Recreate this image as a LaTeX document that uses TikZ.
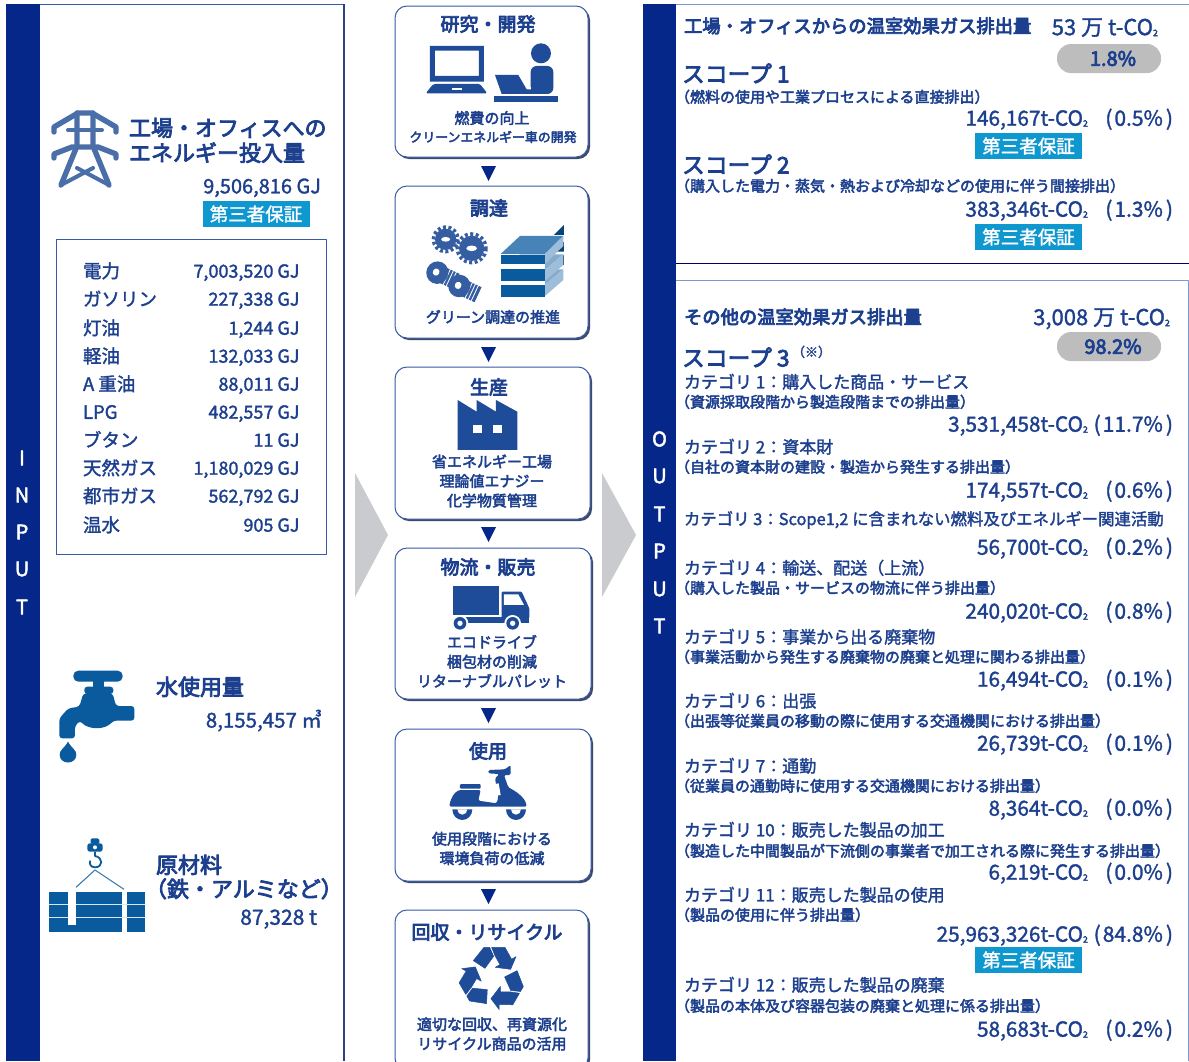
\documentclass[tikz,border=0pt]{standalone}
\usepackage{fontspec}
\setmainfont{Noto Sans CJK JP}
\newcommand\mainw{\special{pdf:code 2 Tr 0.3 w}}
\newcommand\subfont{\special{pdf:code 2 Tr 0.45 w}}
\newcommand\hvfont{\special{pdf:code 2 Tr 0.8 w}}
\renewcommand\bfseries{\hvfont}
\usetikzlibrary{shadows}
\definecolor{navy}{HTML}{06278A}
\definecolor{ink}{HTML}{1C3F8E}
\definecolor{iconblue}{HTML}{1F4C98}
\definecolor{tapblue}{HTML}{0A5A9E}
\definecolor{towerblue}{HTML}{4A6FA8}
\definecolor{framec}{HTML}{3A5AA6}
\definecolor{framel}{HTML}{7F97CF}
\definecolor{badgec}{HTML}{0F97CF}
\definecolor{pillc}{HTML}{BDBDBD}
\definecolor{chev}{HTML}{C9CBCE}
\definecolor{shadowc}{HTML}{3C4A6E}
\tikzset{
  tx/.style={text=ink,inner sep=0pt,outer sep=0pt},
  flowbox/.style={draw=framec,line width=1pt,fill=white,rounded corners=12pt,inner sep=0pt,
    copy shadow={shadow xshift=2pt,shadow yshift=-2pt,fill=shadowc,draw=none}},
  badge/.style={fill=badgec,text=white,inner sep=0pt,minimum width=107pt,minimum height=26pt,font=\fontsize{18.5}{20}\selectfont},
  pill/.style={fill=pillc,text=ink,rounded corners=14pt,inner sep=0pt,minimum width=104pt,minimum height=29pt,font=\fontsize{20}{22}\selectfont},
  panel/.style={draw=framec,line width=1pt},
  bar/.style={fill=navy},
  side/.style={text=white,inner sep=0pt,font=\fontsize{20}{20}\selectfont},
  flowtext/.style={text=ink,inner sep=0pt,align=center,font=\fontsize{15}{19.5}\selectfont},
  flowtextb/.style={text=ink,inner sep=0pt,font=\fontsize{12.9}{15}\selectfont},
  flowhead/.style={text=ink,inner sep=0pt,font=\fontsize{19}{20}\selectfont},
  iconz/.style={x=0.3333pt,y=-0.3333pt},
}
\newcommand\COii{CO{\fontsize{9}{9}\selectfont\raisebox{-1pt}{2}}}
\newcommand\txtL[5]{\pgfmathsetmacro\by{#3+0.37*#4}\node[tx,anchor=base west,font=\fontsize{#4}{#4}\selectfont] (#1) at (#2,\by) {\mainw #5};}
\newcommand\txtR[5]{\pgfmathsetmacro\by{#3+0.37*#4}\node[tx,anchor=base east,font=\fontsize{#4}{#4}\selectfont] (#1) at (#2,\by) {\mainw #5};}
\newcommand\valrow[4]{\txtR{#1n}{1088}{#2}{20.8}{#3t-\COii}\txtR{#1p}{1173}{#2}{21}{(\hspace{2pt}#4\hspace{3pt})}}
\newcommand\recyarrow{%
  \filldraw[iconblue,line width=.5pt] (-57,-53) -- (-25,-93) -- (-8,-93) -- (4,-66) -- (-22,-30) -- cycle;
  \filldraw[iconblue,line width=.5pt] (-2,-93) -- (38,-93) -- (58,-57) -- (71,-65) -- (55,-27) -- (9,-33) -- (23,-41) -- (8,-68) -- cycle;}
\begin{document}
\begin{tikzpicture}[x=1pt,y=-1pt,line join=round]
\useasboundingbox (0,0) rectangle (1189,1061);
\fill[white] (0,0) rectangle (1189,1061);
% ---------- panels
\fill[bar] (6,4) rectangle (40,1061);
\draw[panel] (40,4.5) -- (344,4.5);
\draw[line width=1.4pt,draw=black!25!framec] (344,4) -- (344,1061);
\fill[bar] (643,4) rectangle (676,1061);
\draw[panel,draw=framel] (676,4.5) -- (1189,4.5);
\draw[line width=1.6pt,draw=black!60!blue] (676,263.5) -- (1189,263.5);
\draw[panel,draw=framel] (676,280.5) -- (1188,280.5) -- (1188,1061);
\foreach \l/\y/\n in {I/458/i1,N/495/i2,P/532/i3,U/569/i4,T/607/i5}
  \node[side] (\n) at (22,\y) {\subfont \l};
\foreach \l/\y/\n in {O/439/o1,U/476/o2,T/514/o3,P/551/o4,U/589/o5,T/626/o6}
  \node[side] (\n) at (659.5,\y) {\subfont \l};
% ---------- chevrons
\fill[chev] (355,473) -- (388,535) -- (355,597) -- cycle;
\fill[chev] (602,473) -- (636,535) -- (602,597) -- cycle;
% ---------- INPUT: tower
\begin{scope}[draw=towerblue,line width=5.4pt,line cap=round]
  \draw (54,132) -- (54,127) -- (78,113) -- (92,113) -- (116,127) -- (116,132);
  \draw (54,158) -- (54,154) -- (72,147) -- (98,147) -- (116,154) -- (116,158);
  \draw[line width=4pt] (68,130) -- (102,130);
  \draw (61,185) -- (77,146) -- (77,113);
  \draw (109,185) -- (93,146) -- (93,113);
  \draw[line width=4pt] (61,185) -- (93,168);
  \draw[line width=4pt] (109,185) -- (77,168);
\end{scope}
\txtL{h1a}{129}{128}{22}{\bfseries 工場・オフィスへの}
\txtL{h1b}{129}{153}{22}{\bfseries エネルギー投入量}
\txtR{h1v}{321}{186}{20}{9,506,816 GJ}
\node[badge] (b0) at (256,214) {\mainw 第三者保証};
\draw[line width=1pt,draw=framec] (56.5,239.5) rectangle (326,554);
\foreach \n/\y/\a/\v in {r1/271/電力/7{,}003{,}520,r2/299/ガソリン/227{,}338,r3/328/灯油/1{,}244,r4/356/軽油/132{,}033,r5/384/A 重油/88{,}011,r6/412/LPG/482{,}557,r7/440/ブタン/11,r8/468/天然ガス/1{,}180{,}029,r9/496/都市ガス/562{,}792,r10/525/温水/905}{
  \txtL{\n a}{83}{\y}{18.5}{\a}
  \txtR{\n b}{299.5}{\y}{18}{\v\ GJ}
}
% ---------- INPUT: faucet
\begin{scope}[shift={(0,650)},iconz]
  \fill[tapblue,rounded corners=5pt] (220,62) rectangle (368,95);
  \fill[tapblue,rounded corners=3pt] (253,110) rectangle (340,132);
  \fill[tapblue] (280,90) rectangle (312,115);
  \fill[tapblue,rounded corners=3pt] (178,265) -- (225,265) -- (225,228) -- (240,212) .. controls (265,240) and (315,240) .. (340,212) -- (403,212) -- (403,168) -- (348,168) -- (338,130) -- (250,130) -- (238,170) -- (205,175) -- (178,205) -- cycle;
  \fill[tapblue] (204,275) .. controls (215,295) and (230,300) .. (229,315) .. controls (228,345) and (180,345) .. (179,315) .. controls (178,300) and (193,295) .. (204,275) -- cycle;
\end{scope}
\txtL{h2}{156}{687}{22}{\bfseries 水使用量}
\txtR{h2v}{322}{720}{20.5}{8,155,457 ㎥}
% ---------- INPUT: crane load
\begin{scope}[shift={(0,650)},iconz]
  \fill[tapblue] (147,725) rectangle (435,845);
  \fill[white] (365,725) rectangle (382,845);
  \fill[white!85!tapblue] (147,761) rectangle (435,765);
  \fill[white!85!tapblue] (147,801) rectangle (435,805);
  \fill[white] (205,725) rectangle (228,825);
  \fill[tapblue,rounded corners=1.5pt] (272,565) rectangle (298,582);
  \fill[tapblue,rounded corners=2.5pt] (262,580) rectangle (308,605);
  \fill[white] (285,592) circle[radius=6];
  \draw[tapblue,line width=1.8pt] (285,605) -- (285,618) .. controls (310,622) and (310,652) .. (285,652) .. controls (272,652) and (268,642) .. (270,632);
  \draw[tapblue!80!white,line width=1.1pt] (228,712) -- (285,660) -- (372,718);
\end{scope}
\txtL{h3a}{156}{865}{22}{\bfseries 原材料}
\txtL{h3b}{145}{889}{22}{\bfseries （鉄・アルミなど）}
\txtR{h3v}{317}{917}{21}{87,328 t}
% ---------- flow boxes
\node[flowbox,minimum width=193pt,minimum height=151pt] (f1) at (491.5,81.5) {};
\node[flowbox,minimum width=193pt,minimum height=152pt] (f2) at (491.5,262) {};
\node[flowbox,minimum width=195pt,minimum height=152pt] (f3) at (492.5,443) {};
\node[flowbox,minimum width=196pt,minimum height=151pt] (f4) at (493,623.5) {};
\node[flowbox,minimum width=196pt,minimum height=152pt] (f5) at (493,805) {};
\node[flowbox,minimum width=193pt,minimum height=160pt] (f6) at (491.5,990) {};
% connector triangles between the boxes
\foreach \a/\b/\t in {f1/f2/166,f2/f3/347,f3/f4/527,f4/f5/708,f5/f6/889}
  \fill[navy] (481,\t) -- (496,\t) -- (488.5,\t+15) -- cycle;
\node[flowhead] (t1) at (488,24) {\hvfont 研究・開発};
\node[flowtext] (d1a) at (492,118) {\subfont 燃費の向上};
\node[flowtextb] (d1b) at (493,137) {\subfont クリーンエネルギー車の開発};
\node[flowhead] (t2) at (489,208) {\hvfont 調達};
\node[flowtext] (d2) at (493,317) {\subfont グリーン調達の推進};
\node[flowhead] (t3) at (489,387) {\hvfont 生産};
\node[flowtext] (d3) at (492,481) {\subfont 省エネルギー工場\\\subfont 理論値エナジー\\\subfont 化学物質管理};
\node[flowhead] (t4) at (488,567) {\hvfont 物流・販売};
\node[flowtext] (d4) at (492,661.5) {\subfont エコドライブ\\\subfont 梱包材の削減\\\subfont リターナブルパレット};
\node[flowhead] (t5) at (488,751) {\hvfont 使用};
\node[flowtext] (d5) at (492,848.5) {\subfont 使用段階における\\\subfont 環境負荷の低減};
\node[flowhead] (t6) at (487,932) {\hvfont 回収・リサイクル};
\node[flowtext] (d6) at (492,1034) {\subfont 適切な回収、再資源化\\\subfont リサイクル商品の活用};
% ---------- icons in boxes
\begin{scope}[shift={(380,0)},iconz]
  % laptop
  \fill[iconblue,even odd rule] (150,138) rectangle (312,245) (165,152) rectangle (297,228);
  \fill[iconblue,rounded corners=1.5pt] (160,252) -- (300,252) -- (322,280) -- (137,280) -- cycle;
  \fill[white] (215,265) rectangle (245,271);
  % person
  \fill[iconblue] (483,160) circle[radius=30];
  \fill[iconblue,rounded corners=6pt] (452,282) -- (452,198) -- (520,198) -- (520,282) -- cycle;
  \fill[white] (432,262) rectangle (452,272);
  \fill[iconblue] (345,225) -- (415,225) -- (440,268) -- (470,268) -- (470,282) -- (365,282) -- cycle;
  \fill[iconblue] (342,288) rectangle (533,307);
  % gears
  \foreach \cx/\cy/\r in {197/718/32,275/745/38}{
    \fill[iconblue!90!white] (\cx,\cy) circle[radius=\r];
    \draw[iconblue!90!white,line width=3.5pt,dash pattern=on 3pt off 2.5pt] (\cx,\cy) circle[radius=\r+5];
    \fill[white] (\cx,\cy) ellipse[x radius=\r*0.42,y radius=\r*0.22];
  }
  % bolts
  \foreach \cx/\cy in {172/818,238/858}{
    \begin{scope}[shift={(\cx,\cy)},rotate=-25]
      \fill[iconblue!90!white] (10,-25) rectangle (62,25);
      \foreach \k in {30,40,50} \fill[white] (\k,-28) rectangle (\k+2.5,28);
      \fill[iconblue!90!white] (0,0) ellipse[x radius=33,y radius=34];
      \fill[white] (-4,0) ellipse[x radius=10,y radius=11];
    \end{scope}
  }
  % stacked sheets
  \fill[black!25!tapblue] (522,705) -- (552,675) -- (552,705) -- cycle;
  \fill[black!25!tapblue] (522,755) -- (552,725) -- (552,755) -- cycle;
  \fill[black!25!tapblue] (522,795) -- (552,765) -- (552,795) -- cycle;
  \foreach \t in {855,810}{
    \fill[tapblue!50!white] (362,\t) -- (420,\t-47) -- (550,\t-47) -- (495,\t) -- cycle;
    \fill[tapblue!40!white] (495,\t) -- (550,\t-47) -- (550,\t-15) -- (495,\t+33) -- cycle;
    \fill[tapblue] (362,\t) rectangle (495,\t+36);
  }
  \fill[tapblue!75!white] (362,762) -- (420,708) -- (550,708) -- (495,762) -- cycle;
  \fill[tapblue!40!white] (495,762) -- (550,708) -- (550,738) -- (495,792) -- cycle;
  \fill[tapblue] (362,765) rectangle (495,792);
  \fill[white] (362,792) rectangle (495,808);
  \fill[tapblue] (362,808) rectangle (495,842);
  \fill[white] (362,842) rectangle (495,855);
  \fill[tapblue] (362,855) rectangle (495,890);
\end{scope}
\begin{scope}[shift={(380,360)},iconz]
  % factory
  \fill[iconblue] (233,120) -- (290,155) -- (290,120) -- (348,155) -- (348,120) -- (412,155) -- (412,270) -- (233,270) -- cycle;
  \fill[white] (280,195) rectangle (305,218);
  \fill[white] (340,195) rectangle (365,218);
  % truck
  \fill[iconblue] (220,677) rectangle (357,765);
  \fill[iconblue,rounded corners=1pt] (365,695) -- (425,695) -- (448,745) -- (448,775) -- (365,775) -- cycle;
  \fill[white] (372,703) -- (415,703) -- (432,735) -- (372,735) -- cycle;
  \fill[iconblue] (225,770) rectangle (448,788);
  \foreach \c in {240,398}{
    \fill[white] (\c,790) circle[radius=25];
    \fill[iconblue] (\c,790) circle[radius=19];
    \fill[white] (\c,790) circle[radius=8];
  }
\end{scope}
\begin{scope}[shift={(380,710)},iconz]
  % scooter
  \fill[iconblue,rounded corners=1pt] (240,222) rectangle (302,236);
  \fill[iconblue,rounded corners=1.5pt] (208,290) .. controls (212,262) and (225,245) .. (240,240) -- (302,240) -- (295,272) -- (350,280) -- (355,262) -- (345,205) -- (358,192) -- (325,190) -- (325,180) -- (375,178) -- (392,165) -- (392,195) -- (372,195) -- (385,232) .. controls (420,250) and (438,270) .. (440,290) -- cycle;
  \fill[white] (345,222) -- (356,220) -- (362,255) -- (352,257) -- cycle;
  \fill[iconblue] (217,298) arc[start angle=180,end angle=360,x radius=30,y radius=-32] -- cycle;
  \fill[white] (232,298) arc[start angle=180,end angle=360,x radius=15,y radius=-16] -- cycle;
  \fill[iconblue] (378,298) arc[start angle=180,end angle=360,x radius=30,y radius=-32] -- cycle;
  \fill[white] (393,298) arc[start angle=180,end angle=360,x radius=15,y radius=-16] -- cycle;
\end{scope}
% recycle
\begin{scope}[shift={(492.3,978.3)},iconz]\recyarrow\end{scope}
\begin{scope}[shift={(492.3,978.3)},rotate=120,iconz]\recyarrow\end{scope}
\begin{scope}[shift={(492.3,978.3)},rotate=240,iconz]\recyarrow\end{scope}
% ---------- OUTPUT top
\txtL{a1}{684}{26}{18.3}{\bfseries 工場・オフィスからの温室効果ガス排出量}
\txtR{a2}{1158}{27}{22}{53 万 t-\COii}
\node[pill] (p1) at (1109,58.5) {\hvfont\hspace{8pt}1.8\%};
\txtL{s1}{682}{74}{22.8}{\bfseries スコープ 1}
\txtL{s1d}{675}{97}{15}{\subfont （燃料の使用や工業プロセスによる直接排出）}
\valrow{v1}{118}{146,167}{0.5\%}
\node[badge] (b1) at (1028.5,146) {\mainw 第三者保証};
\txtL{s2}{682}{165}{22.8}{\bfseries スコープ 2}
\txtL{s2d}{675}{186}{15}{\subfont （購入した電力・蒸気・熱および冷却などの使用に伴う間接排出）}
\valrow{v2}{209}{383,346}{1.3\%}
\node[badge] (b2) at (1028.5,237) {\mainw 第三者保証};
% ---------- OUTPUT lower
\txtL{c1}{684}{317}{18.3}{\bfseries その他の温室効果ガス排出量}
\txtR{c2}{1170}{317}{22}{3,008 万 t-\COii}
\node[pill] (p2) at (1109,346.5) {\hvfont\hspace{8pt}98.2\%};
\txtL{s3}{682}{358}{22.8}{\bfseries スコープ 3}
\txtL{s3n}{792}{352}{13}{（※）}
\txtL{k1}{684}{382}{17}{カテゴリ 1：購入した商品・サービス}
\txtL{k1d}{675}{402}{15}{\subfont （資源採取段階から製造段階までの排出量）}
\valrow{v3}{424}{3,531,458}{11.7\%}
\txtL{k2}{684}{447}{17}{カテゴリ 2：資本財}
\txtL{k2d}{675}{467}{15}{\subfont （自社の資本財の建設・製造から発生する排出量）}
\valrow{v4}{490}{174,557}{0.6\%}
\txtL{k3}{684}{519}{16.4}{カテゴリ 3：Scope1,2 に含まれない燃料及びエネルギー関連活動}
\valrow{v5}{547}{56,700}{0.2\%}
\txtL{k4}{684}{568}{17}{カテゴリ 4：輸送、配送（上流）}
\txtL{k4d}{675}{588}{15}{\subfont （購入した製品・サービスの物流に伴う排出量）}
\valrow{v6}{611}{240,020}{0.8\%}
\txtL{k5}{684}{637}{17}{カテゴリ 5：事業から出る廃棄物}
\txtL{k5d}{675}{657}{15}{\subfont （事業活動から発生する廃棄物の廃棄と処理に関わる排出量）}
\valrow{v7}{679}{16,494}{0.1\%}
\txtL{k6}{684}{701}{17}{カテゴリ 6：出張}
\txtL{k6d}{675}{721}{15}{\subfont （出張等従業員の移動の際に使用する交通機関における排出量）}
\valrow{v8}{743}{26,739}{0.1\%}
\txtL{k7}{684}{766}{17}{カテゴリ 7：通勤}
\txtL{k7d}{675}{786}{15}{\subfont （従業員の通勤時に使用する交通機関における排出量）}
\valrow{v9}{808}{8,364}{0.0\%}
\txtL{k10}{684}{830}{17}{カテゴリ 10：販売した製品の加工}
\txtL{k10d}{675}{851}{15}{\subfont （製造した中間製品が下流側の事業者で加工される際に発生する排出量）}
\valrow{v10}{872}{6,219}{0.0\%}
\txtL{k11}{684}{895}{17}{カテゴリ 11：販売した製品の使用}
\txtL{k11d}{675}{915}{15}{\subfont （製品の使用に伴う排出量）}
\valrow{v11}{934}{25,963,326}{84.8\%}
\node[badge] (b3) at (1028.5,960) {\mainw 第三者保証};
\txtL{k12}{684}{985}{17}{カテゴリ 12：販売した製品の廃棄}
\txtL{k12d}{675}{1006}{15}{\subfont （製品の本体及び容器包装の廃棄と処理に係る排出量）}
\valrow{v12}{1029}{58,683}{0.2\%}
\end{tikzpicture}
\end{document}
